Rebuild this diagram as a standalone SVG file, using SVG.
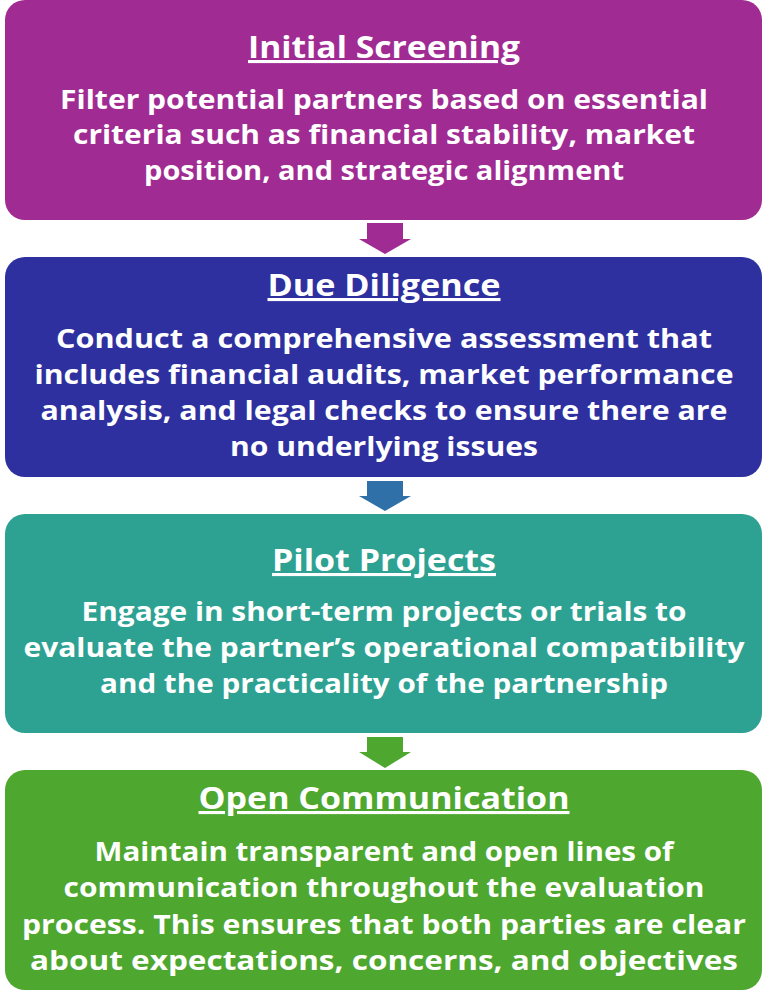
<svg xmlns="http://www.w3.org/2000/svg" width="774" height="1001" viewBox="0 0 774 1001">
<style>
text{font-family:"Open Sans","Liberation Sans",sans-serif;font-weight:700;fill:#ffffff;text-anchor:middle}
.t{font-size:31px;text-decoration:underline}
.b{font-size:27px}
</style>
<rect width="774" height="1001" fill="#ffffff"/>
<g id="connectors">
<polygon points="367,223 403,223 403,239 411,239 385,254 359,239 367,239" fill="#A02B93"/>
<polygon points="367,481 403,481 403,496 411,496 385,511 359,496 367,496" fill="#2F70A8"/>
<polygon points="367,737 403,737 403,752 411,752 385,768 359,752 367,752" fill="#4EA72E"/>
</g>
<g id="node1">
<rect x="5" y="0" width="757" height="220" rx="20" fill="#A02B93"/>
<text class="t" x="384" y="58" textLength="272" lengthAdjust="spacingAndGlyphs">Initial Screening</text>
<text class="b" x="384" y="109" textLength="648" lengthAdjust="spacingAndGlyphs">Filter potential partners based on essential</text>
<text class="b" x="384" y="144" textLength="622" lengthAdjust="spacingAndGlyphs">criteria such as financial stability, market</text>
<text class="b" x="384" y="180" textLength="480" lengthAdjust="spacingAndGlyphs">position, and strategic alignment</text>
</g>
<g id="node2">
<rect x="5" y="257" width="757" height="220" rx="20" fill="#2E30A0"/>
<text class="t" x="384" y="296" textLength="233" lengthAdjust="spacingAndGlyphs">Due Diligence</text>
<text class="b" x="384" y="348" textLength="656" lengthAdjust="spacingAndGlyphs">Conduct a comprehensive assessment that</text>
<text class="b" x="384" y="384" textLength="699" lengthAdjust="spacingAndGlyphs">includes financial audits, market performance</text>
<text class="b" x="384" y="420" textLength="687" lengthAdjust="spacingAndGlyphs">analysis, and legal checks to ensure there are</text>
<text class="b" x="384" y="456" textLength="308" lengthAdjust="spacingAndGlyphs">no underlying issues</text>
</g>
<g id="node3">
<rect x="5" y="514" width="757" height="219" rx="20" fill="#2EA292"/>
<text class="t" x="384" y="571" textLength="224" lengthAdjust="spacingAndGlyphs">Pilot Projects</text>
<text class="b" x="384" y="621" textLength="605" lengthAdjust="spacingAndGlyphs">Engage in short-term projects or trials to</text>
<text class="b" x="384" y="657" textLength="721" lengthAdjust="spacingAndGlyphs">evaluate the partner’s operational compatibility</text>
<text class="b" x="384" y="693" textLength="568" lengthAdjust="spacingAndGlyphs">and the practicality of the partnership</text>
</g>
<g id="node4">
<rect x="5" y="770" width="757" height="220" rx="20" fill="#4EA72E"/>
<text class="t" x="384" y="809" textLength="371" lengthAdjust="spacingAndGlyphs">Open Communication</text>
<text class="b" x="384" y="861" textLength="579" lengthAdjust="spacingAndGlyphs">Maintain transparent and open lines of</text>
<text class="b" x="384" y="897" textLength="641" lengthAdjust="spacingAndGlyphs">communication throughout the evaluation</text>
<text class="b" x="384" y="934" textLength="724" lengthAdjust="spacingAndGlyphs">process. This ensures that both parties are clear</text>
<text class="b" x="384" y="970" textLength="708" lengthAdjust="spacingAndGlyphs">about expectations, concerns, and objectives</text>
</g>
</svg>
